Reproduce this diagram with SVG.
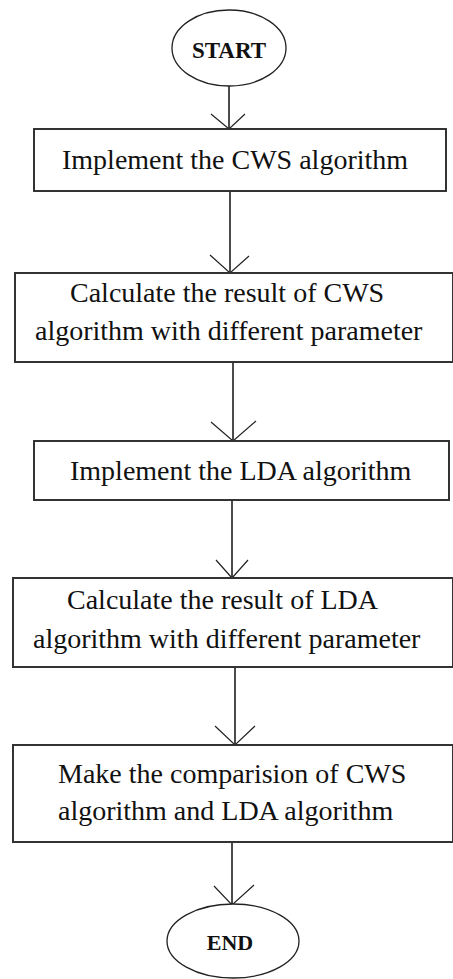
<svg xmlns="http://www.w3.org/2000/svg" width="453" height="979" viewBox="0 0 453 979">
<style>
.box{fill:#fff;stroke:#333;stroke-width:2}
.term{fill:#fff;stroke:#222;stroke-width:1.3}
.t{font-family:"Liberation Serif","Times New Roman",serif;font-size:28px;fill:#111}
.tb{font-family:"Liberation Serif","Times New Roman",serif;font-weight:bold;fill:#111}
.c{fill:none;stroke:#111;stroke-width:1.5}
.ah{fill:none;stroke:#222;stroke-width:1.2}
</style>
<rect width="453" height="979" fill="#fff"/>
<g id="connectors">
<line class="c" x1="229" y1="86" x2="229" y2="129"/>
<polyline class="ah" points="211,114 229,129 245,114"/>
<line class="c" x1="230" y1="191" x2="230" y2="273"/>
<polyline class="ah" points="210,255 230,273 249,256"/>
<line class="c" x1="233" y1="362" x2="233" y2="441"/>
<polyline class="ah" points="211,422 233,441 256,421"/>
<line class="c" x1="232" y1="500" x2="232" y2="578"/>
<polyline class="ah" points="216,560 232,578 248,560"/>
<line class="c" x1="235" y1="667" x2="235" y2="745"/>
<polyline class="ah" points="215,726 235,745 255,726"/>
<line class="c" x1="232" y1="842" x2="232" y2="905"/>
<polyline class="ah" points="214,886 232,905 254,885"/>
</g>
<g id="start">
<ellipse class="term" cx="229" cy="48" rx="57" ry="38"/>
<text class="tb" x="229" y="58" font-size="23" text-anchor="middle">START</text>
</g>
<g id="step1">
<rect class="box" x="34" y="129" width="412" height="62"/>
<text class="t" x="62" y="169">Implement the CWS algorithm</text>
</g>
<g id="step2">
<rect class="box" x="15" y="273" width="438" height="89"/>
<text class="t" x="70" y="302">Calculate the result of CWS</text>
<text class="t" x="35" y="340">algorithm with different parameter</text>
</g>
<g id="step3">
<rect class="box" x="34" y="441" width="415" height="59"/>
<text class="t" x="70" y="480">Implement the LDA algorithm</text>
</g>
<g id="step4">
<rect class="box" x="13" y="578" width="440" height="89"/>
<text class="t" x="67" y="609">Calculate the result of LDA</text>
<text class="t" x="33" y="648">algorithm with different parameter</text>
</g>
<g id="step5">
<rect class="box" x="13" y="745" width="440" height="97"/>
<text class="t" x="58" y="783">Make the comparision of CWS</text>
<text class="t" x="58" y="820">algorithm and LDA algorithm</text>
</g>
<g id="end">
<ellipse class="term" cx="233" cy="941" rx="66" ry="37"/>
<text class="tb" x="230" y="950" font-size="22" text-anchor="middle">END</text>
</g>
</svg>
